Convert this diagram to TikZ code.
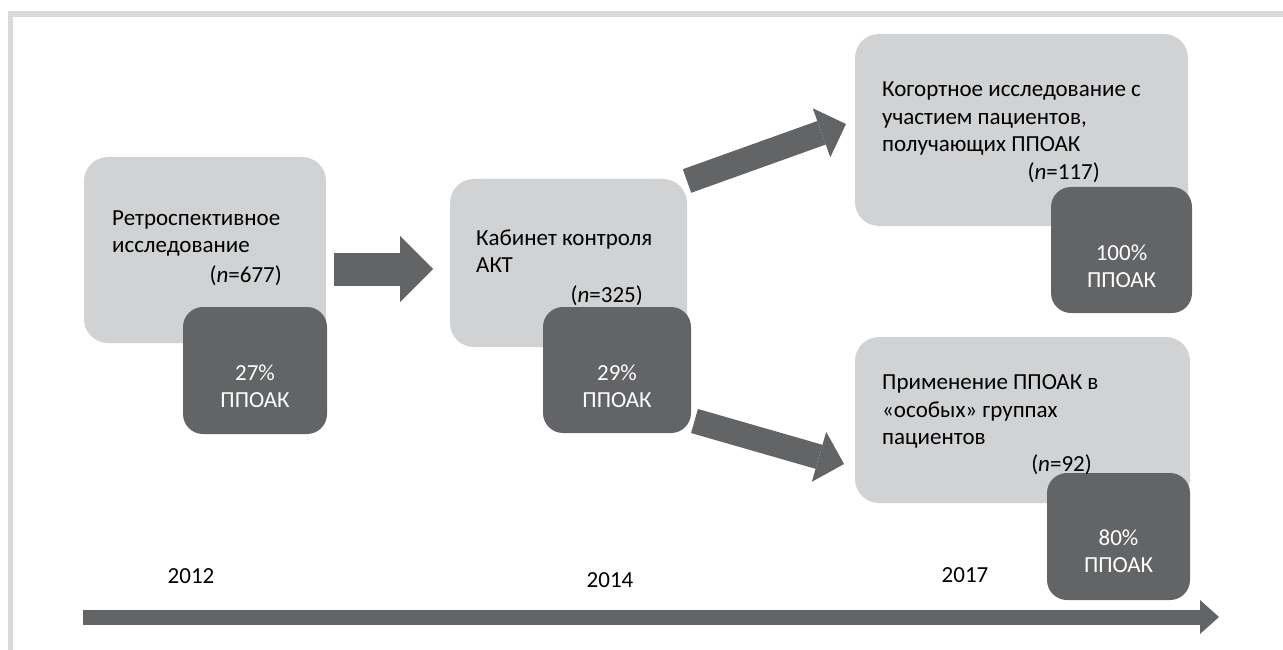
\documentclass[tikz,border=0pt]{standalone}
\usepackage{fontspec}
\setmainfont{Carlito}
\usetikzlibrary{arrows.meta}

\definecolor{boxlight}{RGB}{209,210,212}
\definecolor{boxdark}{RGB}{99,100,102}
\definecolor{framegray}{RGB}{217,217,217}

\begin{document}
\begin{tikzpicture}[x=1pt,y=1pt,yscale=-1,
  lightbox/.style={fill=boxlight,rounded corners=24pt,inner sep=0pt},
  darkbox/.style={fill=boxdark,rounded corners=20pt,inner sep=0pt},
  txt/.style={inner sep=0pt,align=left,font=\fontsize{23}{27.5}\selectfont},
  pcttxt/.style={inner sep=0pt,align=center,text=white,font=\fontsize{23}{27}\selectfont},
  fat/.style={draw=boxdark}]
\useasboundingbox (0,0) rectangle (1283,650);

%frame
\draw[framegray,line width=5.5pt] (10.5,650) -- (10.5,14) -- (1283,14);

%Boxes
\node[lightbox,minimum width=242,minimum height=186] (ret) at (205,250) {};
\node[darkbox,minimum width=144,minimum height=127] (ret_pct) at (255,370.5) {};
\node[lightbox,minimum width=237,minimum height=168] (kab) at (568.5,263) {};
\node[darkbox,minimum width=148,minimum height=126] (kab_pct) at (617,370) {};
\node[lightbox,minimum width=333,minimum height=192] (kog) at (1021.5,130) {};
\node[darkbox,minimum width=141,minimum height=126] (kog_pct) at (1121.5,250) {};
\node[lightbox,minimum width=335,minimum height=166] (prim) at (1022.5,420) {};
\node[darkbox,minimum width=143,minimum height=127] (prim_pct) at (1118.5,536.5) {};

% Text Node
\node[txt,anchor=north west] (ret_txt) at (112,210.5) {Ретроспективное\\исследование};
\node[txt,anchor=base east] (ret_n) at (282,282) {(\textit{n}=677)};
\node[txt,anchor=north west] (kab_txt) at (476,229.5) {Кабинет контроля\\АКТ};
\node[txt,anchor=base east] (kab_n) at (643,302) {(\textit{n}=325)};
\node[txt,anchor=north west] (kog_txt) at (882,82) {Когортное исследование с\\участием пациентов,\\получающих ППОАК};
\node[txt,anchor=base east] (kog_n) at (1100,179.5) {(\textit{n}=117)};
\node[txt,anchor=north west] (prim_txt) at (882,374.5) {Применение ППОАК в\\«особых» группах\\пациентов};
\node[txt,anchor=base east] (prim_n) at (1092,471.5) {(\textit{n}=92)};

\node[pcttxt] (ret_p) at (255,386.5) {27\%\\ППОАК};
\node[pcttxt] (kab_p) at (617,386.5) {29\%\\ППОАК};
\node[pcttxt] (kog_p) at (1121.5,266.5) {100\%\\ППОАК};
\node[pcttxt] (prim_p) at (1118.5,551.5) {80\%\\ППОАК};

% years
\node[txt] (y2012) at (191,576) {2012};
\node[txt] (y2014) at (610,580) {2014};
\node[txt] (y2017) at (965,575) {2017};

%Arrows
\coordinate (a1s) at (334,269);
\coordinate (a1e) at (433,269);
\coordinate (ups) at (687,181);
\coordinate (upe) at (846,124);
\coordinate (dns) at (694.5,421);
\coordinate (dne) at (844,464);
\coordinate (tls) at (83,617);
\coordinate (tle) at (1219,617);

\draw[fat,line width=33pt,-{Triangle[length=33pt,width=66pt,line width=0pt]}] (a1s) -- (a1e);
\draw[fat,line width=25pt,-{Triangle[length=26pt,width=52pt,line width=0pt]}] (ups) -- (upe);
\draw[fat,line width=25pt,-{Triangle[length=26pt,width=52pt,line width=0pt]}] (dns) -- (dne);
\draw[fat,line width=15pt,-{Triangle[length=19pt,width=34pt,line width=0pt]}] (tls) -- (tle);

\end{tikzpicture}
\end{document}
